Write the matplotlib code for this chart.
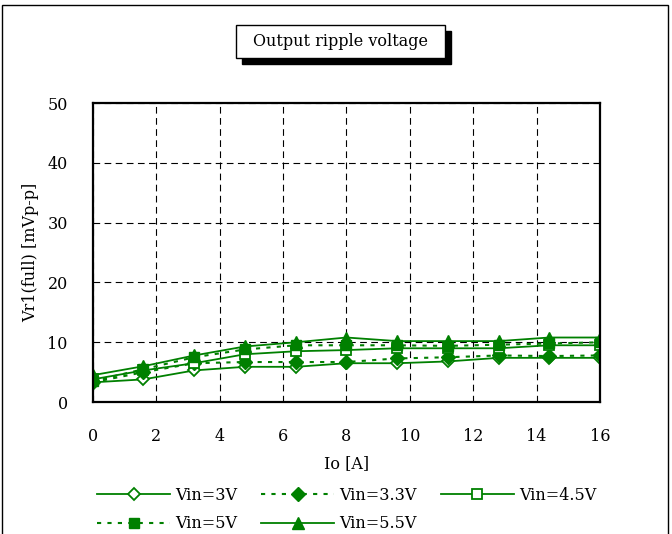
import matplotlib
matplotlib.use('Agg')

import matplotlib.pyplot as plt
from matplotlib.patches import Rectangle

plt.rcParams['font.family'] = ['DejaVu Serif', 'Liberation Serif']

# 電流 [A]
io = [0, 1.6, 3.2, 4.8, 6.4, 8.0, 9.6, 11.2, 12.8, 14.4, 16.0]

vin_3v = [3.3, 3.8, 5.3, 5.9, 5.9, 6.5, 6.5, 6.8, 7.4, 7.4, 7.4]
vin_33v = [3.3, 5.0, 6.5, 6.7, 6.7, 6.7, 7.3, 7.5, 7.8, 7.7, 7.8]
vin_45v = [3.8, 5.3, 6.5, 8.0, 8.5, 8.7, 9.0, 9.0, 9.0, 9.5, 9.5]
vin_5v = [3.5, 5.5, 7.5, 8.8, 9.5, 9.5, 9.5, 9.4, 9.6, 9.8, 10.0]
vin_55v = [4.5, 6.0, 7.8, 9.3, 10.0, 10.8, 10.2, 10.2, 10.2, 10.8, 10.8]

GREEN = '#008000'
FS = 11.5

fig = plt.figure(figsize=(6.72, 5.34), dpi=100)
ax = fig.add_axes([0.138, 0.247, 0.755, 0.560])

# 図の外枠
fig.patches.append(Rectangle((0.003, -0.01), 0.991, 1.0, transform=fig.transFigure,
                             fill=False, edgecolor='black', linewidth=1.0))

ax.plot(io, vin_3v, color=GREEN, linestyle='-', linewidth=1.3,
        marker='D', markersize=6, markerfacecolor='white', markeredgecolor=GREEN,
        markeredgewidth=1.3, label='Vin=3V')
ax.plot(io, vin_33v, color=GREEN, linestyle=(0, (2, 3)), linewidth=1.5,
        marker='D', markersize=7, markerfacecolor=GREEN, label='Vin=3.3V')
ax.plot(io, vin_45v, color=GREEN, linestyle='-', linewidth=1.3,
        marker='s', markersize=7, markerfacecolor='white', markeredgecolor=GREEN,
        markeredgewidth=1.3, label='Vin=4.5V')
ax.plot(io, vin_5v, color=GREEN, linestyle=(0, (2, 3)), linewidth=1.5,
        marker='s', markersize=7, markerfacecolor=GREEN, label='Vin=5V')
ax.plot(io, vin_55v, color=GREEN, linestyle='-', linewidth=1.3,
        marker='^', markersize=8, markerfacecolor=GREEN, label='Vin=5.5V')

ax.set_xlim(0, 16)
ax.set_ylim(0, 50)
ax.set_xticks(range(0, 17, 2))
ax.set_yticks(range(0, 51, 10))
ax.grid(True, color='black', linestyle=(0, (6, 4)), linewidth=0.8)
ax.tick_params(axis='x', length=0, labelsize=FS, pad=19)
ax.tick_params(axis='y', length=0, labelsize=FS, pad=18)
for sp in ax.spines.values():
    sp.set_linewidth(1.6)

ax.set_xlabel('Io [A]', fontsize=FS, labelpad=7)
ax.set_ylabel('Vr1(full) [mVp-p]', fontsize=FS, labelpad=6)

# タイトル（影付きボックス）
fig.patches.append(Rectangle((0.360, 0.880), 0.311, 0.062, transform=fig.transFigure,
                             facecolor='black', edgecolor='black', zorder=1))
fig.patches.append(Rectangle((0.351, 0.891), 0.311, 0.062, transform=fig.transFigure,
                             facecolor='white', edgecolor='black', linewidth=1.0, zorder=2))
fig.text(0.506, 0.922, 'Output ripple voltage', fontsize=FS, ha='center', va='center',
         zorder=3)

handles, labels = ax.get_legend_handles_labels()
order = [0, 3, 1, 4, 2]
fig.legend([handles[i] for i in order], [labels[i] for i in order],
           loc='upper left', bbox_to_anchor=(0.144, 0.088), ncol=3,
           frameon=False, fontsize=FS, handlelength=4.6, handletextpad=0.3,
           columnspacing=1.5, labelspacing=0.7, borderpad=0, borderaxespad=0)

fig.savefig('out.png', dpi=100)
